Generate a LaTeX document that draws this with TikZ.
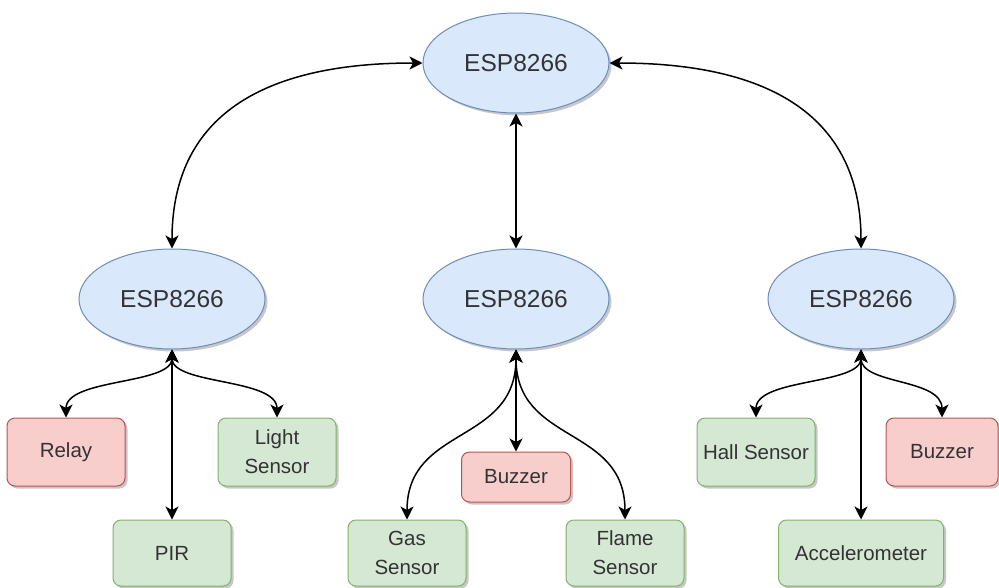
\documentclass[tikz,border=0pt]{standalone}
\usepackage{fontspec}
\setmainfont{Liberation Sans}
\usetikzlibrary{arrows.meta,shapes.geometric,shadows}
\definecolor{bfill}{HTML}{DAE8FC}
\definecolor{bdraw}{HTML}{6C8EBF}
\definecolor{gfill}{HTML}{D5E8D4}
\definecolor{gdraw}{HTML}{82B366}
\definecolor{rfill}{HTML}{F8CECC}
\definecolor{rdraw}{HTML}{B85450}
\definecolor{txt}{HTML}{333333}
\tikzset{
  shade/.style={drop shadow={shadow xshift=2.5pt, shadow yshift=-2.5pt, fill=black, opacity=0.22}},
  esp/.style={ellipse, draw=bdraw, fill=bfill, line width=1pt, minimum width=186pt, minimum height=100pt, inner sep=0pt, shade, text=txt, font=\fontsize{24.5}{28}\selectfont},
  box/.style={rectangle, rounded corners=8pt, line width=1pt, minimum width=118pt, minimum height=68pt, inner sep=0pt, shade, text=txt, align=center, font=\fontsize{20.5}{29}\selectfont},
  gbox/.style={box, draw=gdraw, fill=gfill},
  rbox/.style={box, draw=rdraw, fill=rfill},
  tip/.style={Stealth[length=13pt,width=13pt,inset=3.5pt]},
  link/.style={line width=1.5pt, {Stealth[length=13pt,width=13pt,inset=3.5pt]}-{Stealth[length=13pt,width=13pt,inset=3.5pt]}}
}
\begin{document}
\begin{tikzpicture}[x=1pt,y=-1pt]
\useasboundingbox (0,0) rectangle (999,587);
\fill[white] (0,0) rectangle (999,587);
% ellipses
\node[esp] (top) at (516,63) {ESP8266};
\node[esp] (l) at (172,299) {ESP8266};
\node[esp] (m) at (516,299) {ESP8266};
\node[esp] (r) at (861,299) {ESP8266};
% left group
\node[rbox] (relay) at (66,452) {Relay};
\node[gbox] (light) at (277,452) {Light\\Sensor};
\node[gbox, minimum height=66pt] (pir) at (172,553) {PIR};
% middle group
\node[rbox, minimum width=109pt, minimum height=50pt] (buzz1) at (516,477) {Buzzer};
\node[gbox, minimum height=66pt] (gas) at (407,553) {Gas\\Sensor};
\node[gbox, minimum height=66pt] (flame) at (625,553) {Flame\\Sensor};
% right group
\node[gbox] (hall) at (756,452) {Hall Sensor};
\node[rbox, minimum width=112pt] (buzz2) at (942,452) {Buzzer};
\node[gbox, minimum width=165pt, minimum height=66pt] (acc) at (861,553) {Accelerometer};
% top links
\draw[link] (l.north) .. controls (172,125) and (250,63) .. (top.west);
\draw[link] (r.north) .. controls (861,125) and (782,63) .. (top.east);
\draw[link] (m.north) -- (top.south);
% left children
\draw[link] (l.south) .. controls (172,385) and (66,378) .. (relay.north);
\draw[link] (l.south) .. controls (172,385) and (277,378) .. (light.north);
\draw[link] (l.south) -- (pir.north);
% middle children
\draw[link] (m.south) -- (buzz1.north);
\draw[link] (m.south) .. controls (516,445) and (407,425) .. (gas.north);
\draw[link] (m.south) .. controls (516,445) and (625,425) .. (flame.north);
% right children
\draw[link] (r.south) .. controls (861,385) and (756,378) .. (hall.north);
\draw[link] (r.south) .. controls (861,385) and (942,378) .. (buzz2.north);
\draw[link] (r.south) -- (acc.north);
\end{tikzpicture}
\end{document}
